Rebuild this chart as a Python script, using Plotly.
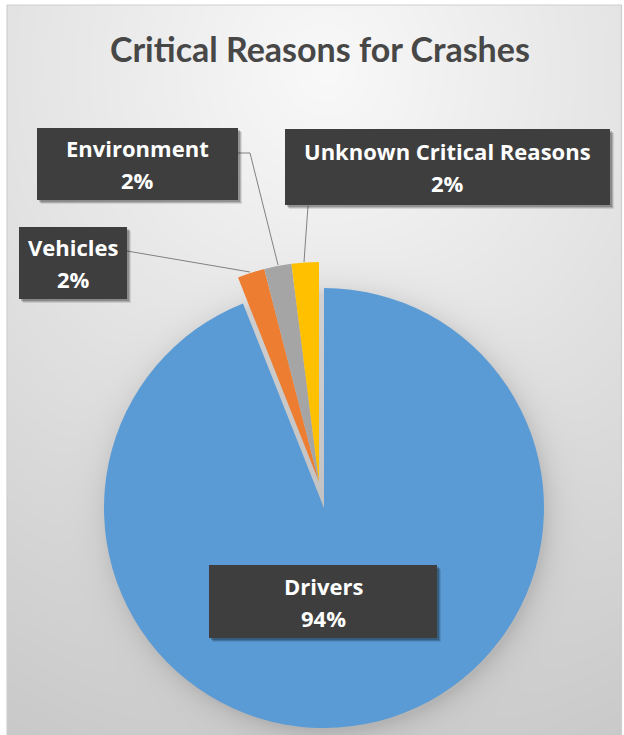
import base64
import struct
import zlib

import numpy as np
import plotly.graph_objects as go

# ---------------- data ----------------
title = "Critical Reasons for Crashes"
categories = ["Drivers", "Vehicles", "Environment", "Unknown Critical Reasons"]
values = [94, 2, 2, 2]
colors = ["#5B9BD5", "#ED7D31", "#A5A5A5", "#FFC000"]

W, H = 624, 735


def px(x):
    return x / W


def py(y):
    return 1 - y / H


# ---------------- background (radial gradient + pie shadow) ----------------
def png_uri(arr):
    h, w, _ = arr.shape
    raw = b"".join(b"\x00" + arr[r].tobytes() for r in range(h))

    def chunk(t, d):
        c = struct.pack(">I", len(d)) + t + d
        return c + struct.pack(">I", zlib.crc32(t + d) & 0xFFFFFFFF)

    png = (b"\x89PNG\r\n\x1a\n"
           + chunk(b"IHDR", struct.pack(">IIBBBBB", w, h, 8, 2, 0, 0, 0))
           + chunk(b"IDAT", zlib.compress(raw, 9))
           + chunk(b"IEND", b""))
    return "data:image/png;base64," + base64.b64encode(png).decode()


yy, xx = np.mgrid[0:H, 0:W].astype(float)
d = np.sqrt((xx - 325) ** 2 + ((yy - 70) * 0.95) ** 2)
g = 249 - 0.068 * d
ds = np.sqrt((xx - 327) ** 2 + (yy - 512) ** 2)
shadow = 26 * np.exp(-np.clip(ds - 218, 0, None) / 13)
g = g - shadow
g = np.clip(g, 0, 255)
mask_out = (xx < 7) | (yy < 5) | (xx > 621)
g[mask_out] = 255
img = np.repeat(g[:, :, None], 3, axis=2).astype(np.uint8)
bg_uri = png_uri(img)

# ---------------- pies ----------------
clear = "rgba(0,0,0,0)"
c_main = [colors[0], clear, clear, clear]
c_small = [clear, colors[1], colors[2], colors[3]]

r = 220
cx1, cy1 = 324, 508   # Drivers
cx2, cy2 = 319, 482   # exploded small slices

fig = go.Figure()
fig.add_trace(go.Pie(
    labels=categories, values=values, sort=False, direction="clockwise",
    rotation=0, textinfo="none", textposition="none", showlegend=False,
    marker=dict(colors=c_main, line=dict(width=0)),
    domain=dict(x=[px(cx1 - r), px(cx1 + r)], y=[py(cy1 + r), py(cy1 - r)]),
))
fig.add_trace(go.Pie(
    labels=categories, values=values, sort=False, direction="clockwise",
    rotation=0, textinfo="none", textposition="none", showlegend=False,
    marker=dict(colors=c_small, line=dict(width=0)),
    domain=dict(x=[px(cx2 - r), px(cx2 + r)], y=[py(cy2 + r), py(cy2 - r)]),
))

shapes = []
annotations = []

# frame
shapes.append(dict(type="rect", xref="paper", yref="paper",
                   x0=px(7), x1=px(621.5), y0=py(740), y1=py(5),
                   line=dict(color="#cfcfcf", width=1.2), fillcolor=clear, layer="below"))

# leader lines
leaders = [
    [(127, 251), (250, 272)],
    [(238, 153), (250, 153), (278, 265)],
    [(308, 206), (304, 262)],
]
for pts in leaders:
    path = "M " + " L ".join(f"{px(a)},{py(b)}" for a, b in pts)
    shapes.append(dict(type="path", xref="paper", yref="paper", path=path,
                       line=dict(color="#808080", width=1), layer="above"))

# label boxes (order matches categories)
boxes = [
    (209, 565, 437, 638),
    (19, 227, 127, 299),
    (37, 128, 238, 200),
    (285, 129, 610, 205),
]
total = sum(values)
lab_font = dict(family="Open Sans", size=22, color="white", weight="bold")
for cat, val, (x0, y0, x1, y1) in zip(categories, values, boxes):
    for k, a in [(4, 0.10), (3, 0.15), (2, 0.2)]:
        shapes.append(dict(type="rect", xref="paper", yref="paper",
                           x0=px(x0 + k), x1=px(x1 + k), y0=py(y1 + k), y1=py(y0 + k),
                           line=dict(width=0), fillcolor=f"rgba(0,0,0,{a})", layer="above"))
    shapes.append(dict(type="rect", xref="paper", yref="paper",
                       x0=px(x0), x1=px(x1), y0=py(y1), y1=py(y0),
                       line=dict(width=0), fillcolor="#3e3e3e", layer="above"))
    pct = round(100 * val / total)
    xc = (x0 + x1) / 2
    yc = (y0 + y1) / 2
    for txt, off in [(cat, -16), (f"{pct}%", 16)]:
        annotations.append(dict(
            xref="paper", yref="paper", x=px(xc), y=py(yc + off),
            xanchor="center", yanchor="middle", showarrow=False,
            text=txt, font=lab_font,
        ))

annotations.append(dict(
    xref="paper", yref="paper", x=px(320), y=py(48), xanchor="center", yanchor="middle",
    showarrow=False, text=title,
    font=dict(family="Lato", size=34, color="#474747", weight="bold"),
))

fig.update_layout(
    width=W, height=H, margin=dict(l=0, r=0, t=0, b=0),
    paper_bgcolor="white", plot_bgcolor="white",
    images=[dict(source=bg_uri, xref="paper", yref="paper", x=0, y=1, sizex=1, sizey=1,
                 xanchor="left", yanchor="top", sizing="stretch", layer="below")],
    shapes=shapes, annotations=annotations,
)

fig.write_html("out.html")
